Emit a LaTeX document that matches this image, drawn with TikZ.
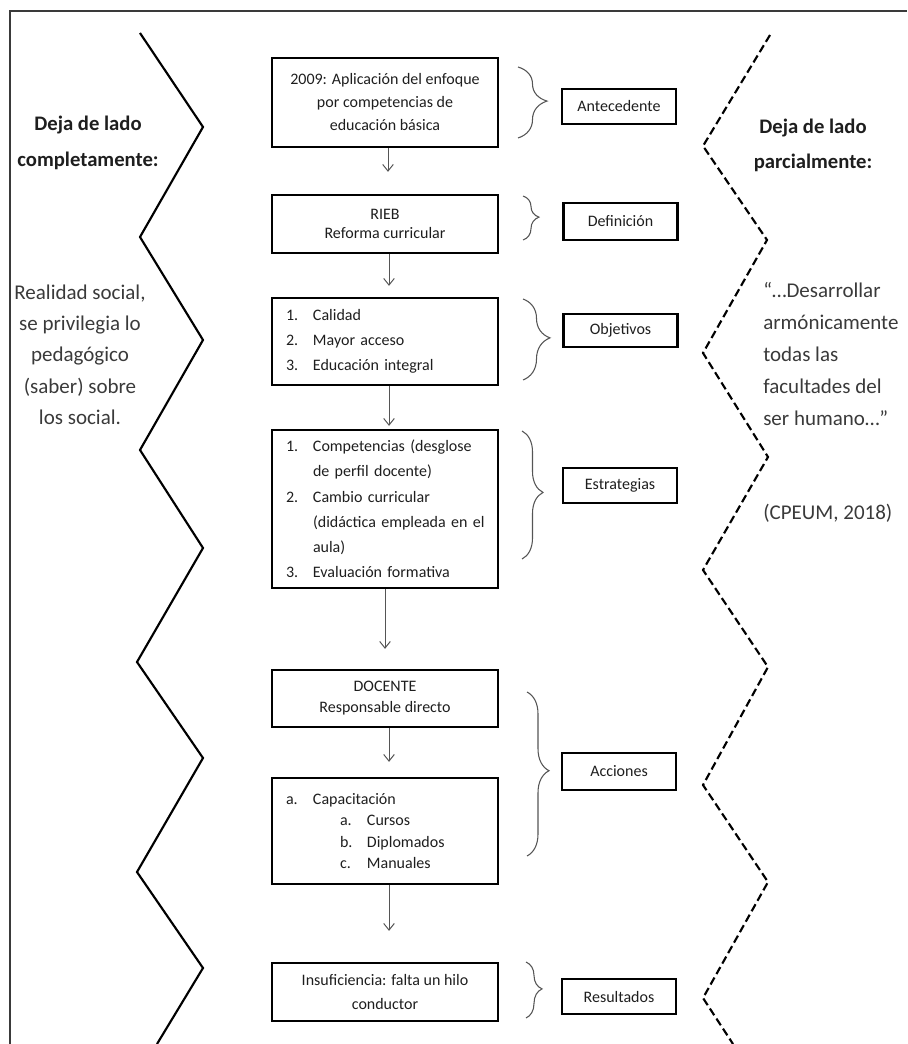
\documentclass[tikz,border=0pt]{standalone}
\usepackage{fontspec}
\setmainfont{Carlito}
\usetikzlibrary{arrows.meta,decorations.pathreplacing}
\definecolor{ink}{HTML}{1E1E1E}
\definecolor{soft}{HTML}{3A3A3A}
\definecolor{wire}{HTML}{555555}
\newcommand{\numlbl}[1]{\makebox[20.25pt][l]{#1}}
\begin{document}
\begin{tikzpicture}[x=0.75pt,y=-0.75pt,
  stage/.style={draw=black, line width=1.7pt, minimum width=169.5pt, inner sep=0pt,
    text=ink, align=center},
  listbox/.style={stage, align=left, text width=148.5pt, inner xsep=10.5pt},
  tag/.style={draw=black, line width=1.7pt, minimum width=85.5pt, minimum height=26.25pt,
    inner sep=0pt, text=ink, font=\fontsize{12}{14}\selectfont},
  flow/.style={draw=wire, line width=0.75pt, -{Straight Barb[length=5pt,width=8pt]}},
  curly/.style={draw=wire, line width=0.8pt, decorate,
    decoration={brace, amplitude=#1, aspect=0.48}},
  ridge/.style={draw=black, line width=1.6pt, line join=miter},
  headtext/.style={align=center, text=ink, font=\fontsize{15.5}{26.5}\selectfont\bfseries},
  sidetext/.style={text=soft, font=\fontsize{15.75}{23.5}\selectfont}]

\path[use as bounding box] (0,0) rectangle (907,1044);

% page frame
\draw[draw=soft, line width=1.1pt] (10,1044) -- (10,11) -- (907,11);

% zigzag borders
\draw[ridge] (140,33) -- (203,127) -- (140,237) -- (203,340) -- (140,450) -- (203,548)
  -- (137,662) -- (203,758) -- (137,872) -- (203,968) -- (157,1044);
\draw[ridge, dash pattern=on 6pt off 3pt] (770,35) -- (703,146) -- (767,240) -- (703,353)
  -- (768,457) -- (703,570) -- (768,667) -- (703,785) -- (768,882) -- (703,998) -- (733,1044);

% side texts
\node[headtext] (lhead) at (88,143) {Deja de lado\\completamente:};
\node[sidetext, align=center] (lbody) at (80,354.5)
  {Realidad social,\\se privilegia lo\\pedagógico\\(saber) sobre\\los social.};
\node[headtext] (rhead) at (813,145.5) {Deja de lado\\parcialmente:};
\node[sidetext, align=left, anchor=west, inner sep=0pt,
  font=\fontsize{15.75}{24}\selectfont] (rquote) at (763,354)
  {“…Desarrollar\\armónicamente\\todas las\\facultades del\\ser humano…”};
\node[sidetext, anchor=west, inner sep=0pt] (rcite) at (763,513) {(CPEUM, 2018)};

% central flow
\node[stage, minimum height=66.75pt, font=\fontsize{12}{17.25}\selectfont] (b1) at (385,102.5)
  {2009: Aplicación del enfoque\\por competencias de\\educación básica};
\node[stage, minimum height=43.5pt, font=\fontsize{12}{14.25}\selectfont] (b2) at (385,224)
  {RIEB\\Reforma curricular};
\node[listbox, minimum height=65.25pt, font=\fontsize{12}{18.75}\selectfont] (b3) at (385,341.5)
  {\numlbl{1.}Calidad\\\numlbl{2.}Mayor acceso\\\numlbl{3.}Educación integral};
\node[listbox, minimum height=118.5pt, font=\fontsize{12}{18.9}\selectfont] (b4) at (385,509)
  {\mbox{\numlbl{1.}Competencias (desglose}\\\mbox{\hspace*{20.25pt}de perfil docente)}\\
   \mbox{\numlbl{2.}Cambio curricular}\\\mbox{\hspace*{20.25pt}(didáctica empleada en el}\\
   \mbox{\hspace*{20.25pt}aula)}\\\mbox{\numlbl{3.}Evaluación formativa}};
\node[stage, minimum height=42.75pt, font=\fontsize{12}{15.75}\selectfont] (b5) at (385,698.5)
  {DOCENTE\\Responsable directo};
\node[listbox, minimum height=79.5pt, font=\fontsize{12}{16}\selectfont] (b6) at (385,831)
  {\numlbl{a.}Capacitación\\\hspace*{40.5pt}\numlbl{a.}Cursos\\
   \hspace*{40.5pt}\numlbl{b.}Diplomados\\\hspace*{40.5pt}\numlbl{c.}Manuales};
\node[stage, minimum height=43.5pt, font=\fontsize{12}{18}\selectfont] (b7) at (385,992)
  {Insuficiencia: falta un hilo\\conductor};

\draw[flow, shorten >=16.5pt] ([xshift=2.25pt]b1.south) -- ([xshift=2.25pt]b2.north);
\draw[flow, shorten >=8.25pt] ([xshift=3pt]b2.south) -- ([xshift=3pt]b3.north);
\draw[flow, shorten >=2.25pt] ([xshift=3pt]b3.south) -- ([xshift=3pt]b4.north);
\draw[flow, shorten >=15pt] (b4.south) -- (b5.north);
\draw[flow, shorten >=11.25pt] ([xshift=3pt]b5.south) -- ([xshift=3pt]b6.north);
\draw[flow, shorten >=23.25pt] ([xshift=3pt]b6.south) -- ([xshift=3pt]b7.north);

% category labels
\node[tag] (t1) at (619,106.5) {Antecedente};
\node[tag, minimum height=27.75pt] (t2) at (620.5,221.5) {Definición};
\node[tag, minimum height=24.75pt] (t3) at (620.5,330.5) {Objetivos};
\node[tag] (t4) at (620,485.5) {Estrategias};
\node[tag, minimum height=27.75pt] (t5) at (619,771.5) {Acciones};
\node[tag] (t6) at (619,996.5) {Resultados};

% braces grouping the stages
\coordinate (k1a) at (518,67);  \coordinate (k1b) at (518,138);
\coordinate (k2a) at (523,196); \coordinate (k2b) at (523,240);
\coordinate (k3a) at (523,299); \coordinate (k3b) at (523,380);
\coordinate (k4a) at (522,431); \coordinate (k4b) at (522,559);
\coordinate (k5a) at (527,692); \coordinate (k5b) at (527,856);
\coordinate (k6a) at (526,962); \coordinate (k6b) at (526,1018);
\draw[curly=21.75pt] (k1a) -- (k1b);
\draw[curly=12pt] (k2a) -- (k2b);
\draw[curly=20.25pt] (k3a) -- (k3b);
\draw[curly=15.75pt] (k4a) -- (k4b);
\draw[curly=16.5pt] (k5a) -- (k5b);
\draw[curly=12pt] (k6a) -- (k6b);
\end{tikzpicture}
\end{document}
